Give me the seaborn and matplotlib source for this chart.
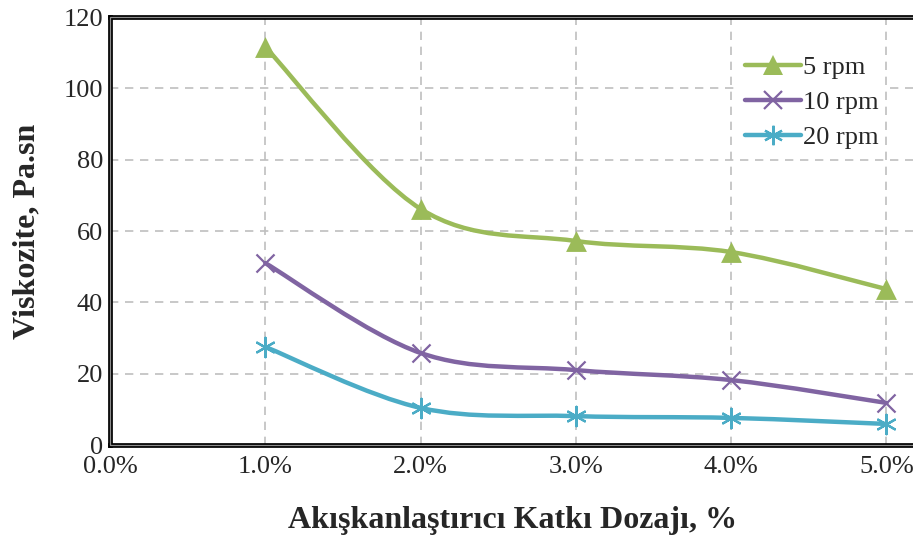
import matplotlib
matplotlib.use("Agg")
import matplotlib.pyplot as plt
import numpy as np
import pandas as pd
import seaborn as sns
from matplotlib.path import Path
from matplotlib.patches import PathPatch, Rectangle
from matplotlib.lines import Line2D

dosage = [0.01, 0.02, 0.03, 0.04, 0.05]
rpm5 = [111.6, 66.2, 57.2, 54.1, 43.7]
rpm10 = [51.0, 25.8, 21.0, 18.2, 11.8]
rpm20 = [27.5, 10.4, 8.1, 7.6, 5.9]
x_ticks = [0.0, 0.01, 0.02, 0.03, 0.04, 0.05]
x_tick_labels = ["0.0%", "1.0%", "2.0%", "3.0%", "4.0%", "5.0%"]
y_ticks = [0, 20, 40, 60, 80, 100, 120]

series = [("5 rpm", rpm5, "#9BBB59", "^", 15, 1.0),
          ("10 rpm", rpm10, "#8064A2", "x", 13, 1.6),
          ("20 rpm", rpm20, "#4BACC6", (6, 2, 0), 14, 1.6)]

df = pd.concat([pd.DataFrame({"dose": dosage, "visc": vals, "rpm": name})
                for name, vals, *_ in series])

sns.set_style("white")
plt.rcParams["font.family"] = ["Liberation Serif", "DejaVu Serif"]

fig = plt.figure(figsize=(9.13, 5.38), dpi=100)
# plot area runs from x=110px to just past the right edge of the image
ax = fig.add_axes([110 / 913, 93 / 538, 806 / 913, 428 / 538])


def smooth_path(xs, ys):
    # Excel style smoothed line as cubic Bezier segments (Catmull-Rom)
    pts = np.column_stack([xs, ys])
    p = np.vstack([pts[0], pts, pts[-1]])
    verts = [pts[0]]
    codes = [Path.MOVETO]
    for i in range(1, len(p) - 2):
        c1 = p[i] + (p[i + 1] - p[i - 1]) / 6
        c2 = p[i + 1] - (p[i + 2] - p[i]) / 6
        verts += [c1, c2, p[i + 1]]
        codes += [Path.CURVE4] * 3
    return Path(verts, codes)


handles = []
for name, vals, color, marker, ms, mew in series:
    ax.add_patch(PathPatch(smooth_path(dosage, vals), facecolor="none",
                           edgecolor=color, lw=3.2, capstyle="round", zorder=3))
    sub = df[df["rpm"] == name]
    sns.scatterplot(data=sub, x="dose", y="visc", ax=ax, color=color,
                    marker=marker, s=ms ** 2, linewidth=mew if marker != "^" else 0,
                    edgecolor=color, zorder=4, legend=False, clip_on=False)
    handles.append(Line2D([], [], color=color, lw=3.2, marker=marker,
                          markersize=ms, markeredgewidth=mew if marker != "^" else 0,
                          solid_capstyle="round", markeredgecolor=color, label=name))

ax.set_xlim(0, 0.0519)
ax.set_ylim(0, 120)
ax.set_xticks(x_ticks)
ax.set_xticklabels(x_tick_labels)
ax.set_yticks(y_ticks)
ax.tick_params(labelsize=19, length=0, pad=5)
ax.tick_params(axis="x", pad=8)
ax.grid(True, color="#BFBFBF", linestyle=(0, (5, 4)), linewidth=1.2)
ax.set_axisbelow(True)
for sp in ax.spines.values():
    sp.set_color("black")
    sp.set_linewidth(3.4)
    sp.set_zorder(5)
# thin grey line inside the black frame (double-line border)
ax.add_patch(Rectangle((0, 0), 1, 1, transform=ax.transAxes, fill=False,
                       edgecolor="#8C8C8C", lw=0.9, zorder=6, clip_on=False))

ax.set_xlabel("Akışkanlaştırıcı Katkı Dozajı, %", fontsize=23, fontweight="bold", labelpad=20)
ax.set_ylabel("Viskozite, Pa.sn", fontsize=23, fontweight="bold", labelpad=16)

leg = ax.legend(handles=handles, loc="upper left", bbox_to_anchor=(740 / 913, 1 - 50 / 538),
                bbox_transform=fig.transFigure,
                frameon=True, fontsize=19, handlelength=2.1, handletextpad=0.1,
                labelspacing=0.45, borderaxespad=0, borderpad=0.2)
leg.get_frame().set_edgecolor("none")
leg.get_frame().set_facecolor("white")
leg.get_frame().set_alpha(1)

fig.savefig("out.png", dpi=100)
